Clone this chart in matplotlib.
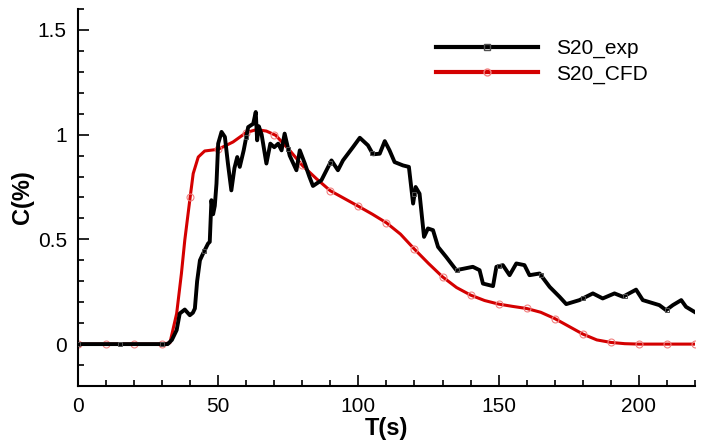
import matplotlib
matplotlib.use("Agg")
import matplotlib.pyplot as plt
import numpy as np

plt.rcParams['font.family'] = ['Liberation Sans', 'DejaVu Sans']

t_exp = [0, 32, 33.5, 35.2, 36.3, 38.1, 39.9, 41.0, 41.7, 42.5, 43.5, 44.6, 45.2, 46.4,
         47.0, 47.6, 48.2, 48.8, 49.4, 50.0, 51.2, 52.4, 53.5, 54.7, 55.8, 56.8, 57.7,
         59.1, 60.7, 62.5, 63.4, 63.9, 64.5, 65.5, 67.2, 68.6, 70.0, 71.4, 72.6, 73.7,
         75.5, 77.9, 79.1, 80.9, 82.5, 83.8, 86.8, 90.4, 92.7, 94.5, 98.1, 100.5, 103.4,
         105.2, 107.6, 109.4, 111.1, 112.9, 115.9, 118.0, 119.5, 120.4, 121.8, 123.4,
         124.8, 126.6, 128.4, 131.3, 134.9, 137.5, 140.8, 143.2, 144.4, 148.0, 149.2,
         151.5, 153.9, 156.3, 159.2, 161.0, 164.6, 168.2, 171.7, 174.1, 178.8, 183.6,
         187.1, 191.3, 194.3, 199.0, 201.4, 207.3, 209.7, 212.1, 215.1, 216.8, 219.8]
c_exp = [0, 0, 0.02, 0.067, 0.146, 0.165, 0.138, 0.15, 0.17, 0.30, 0.40, 0.432, 0.448, 0.48,
         0.488, 0.687, 0.62, 0.66, 0.766, 0.957, 1.013, 0.989, 0.86, 0.734, 0.84, 0.893, 0.846,
         0.925, 1.036, 1.052, 1.108, 0.973, 1.04, 1.0, 0.862, 0.957, 0.94, 0.957, 0.925, 1.005,
         0.90, 0.830, 0.925, 0.862, 0.80, 0.755, 0.782, 0.877, 0.830, 0.877, 0.941, 0.985, 0.949,
         0.906, 0.909, 0.969, 0.925, 0.869, 0.853, 0.846, 0.671, 0.75, 0.718, 0.512,
         0.552, 0.544, 0.464, 0.416, 0.353, 0.36, 0.369, 0.353, 0.289, 0.277, 0.369,
         0.377, 0.329, 0.385, 0.377, 0.329, 0.337, 0.273, 0.226, 0.191, 0.21, 0.242,
         0.218, 0.242, 0.226, 0.26, 0.21, 0.186, 0.162, 0.186, 0.21, 0.178, 0.154]
t_exp_marks = [0, 15, 30, 45, 60, 75, 90, 105, 120, 135, 150, 165, 180, 195, 210]

# CFD series
t_cfd = [0, 10, 20, 30, 32.8, 35.2, 36.9, 38.1, 40, 41.1, 42.9, 45.2, 50, 55.3, 60,
         63.7, 67.2, 70.5, 75.5, 80, 85, 90, 95, 100, 105, 110, 115, 120, 125, 130,
         135, 140, 145, 150, 155, 160, 165, 170, 175, 180, 185, 190, 195, 200, 210, 220]
c_cfd = [0, 0, 0, 0, 0.006, 0.146, 0.337, 0.496, 0.70, 0.814, 0.893, 0.922, 0.93, 0.965, 1.01,
         1.024, 1.017, 0.997, 0.925, 0.853, 0.79, 0.732, 0.695, 0.658, 0.62, 0.579, 0.525,
         0.453, 0.385, 0.321, 0.27, 0.234, 0.208, 0.191, 0.18, 0.170, 0.152, 0.122, 0.085,
         0.048, 0.02, 0.008, 0.002, 0, 0, 0]
t_cfd_marks = list(range(0, 230, 10))

y_ticks = [0, 0.5, 1, 1.5]
y_labels = ['0', '0.5', '1', '1.5']
x_ticks = [0, 50, 100, 150, 200]

fig = plt.figure(figsize=(7.02, 4.48), dpi=100)
ax = fig.add_axes([0.111, 0.1384, 0.879, 0.8416])

red = '#d40000'
ax.plot(t_exp, c_exp, color='black', lw=2.8, solid_joinstyle='round', zorder=3)
ax.plot(t_exp_marks, np.interp(t_exp_marks, t_exp, c_exp), ls='none', marker='s',
        ms=3.5, mfc='none', mec='#505050', mew=0.7, zorder=4)
ax.plot(t_cfd, c_cfd, color=red, lw=2.2, zorder=2)
ax.plot(t_cfd_marks, np.interp(t_cfd_marks, t_cfd, c_cfd), ls='none', marker='o',
        ms=5, mfc='none', mec='#f08080', mew=0.8, zorder=2)

# legend proxies
ax.plot([], [], color='black', lw=3, marker='s', ms=4, mfc='none', mec='#505050',
        label='S20_exp')
ax.plot([], [], color=red, lw=3, marker='o', ms=5, mfc='none', mec='#f08080',
        label='S20_CFD')
handles, labels = ax.get_legend_handles_labels()
ax.legend(handles, labels, loc='upper left', bbox_to_anchor=(0.58, 0.92),
          frameon=False, fontsize=15, handlelength=4.9, handletextpad=0.85,
          labelspacing=0.3, borderpad=0, borderaxespad=0, markerscale=1)

ax.set_xlim(0, 220)
ax.set_ylim(-0.2, 1.6)
ax.set_xticks(x_ticks)
ax.set_xticks(np.arange(0, 221, 10), minor=True)
ax.set_yticks(y_ticks)
ax.set_yticklabels(y_labels)
ax.set_yticks(np.arange(-0.2, 1.61, 0.1), minor=True)
ax.tick_params(which='both', direction='in', labelsize=15, width=1.2)
ax.tick_params(which='major', length=8, pad=8)
ax.tick_params(which='minor', length=4)
ax.tick_params(top=False, right=False)
for s in ['top', 'right']:
    ax.spines[s].set_visible(False)
for s in ['left', 'bottom']:
    ax.spines[s].set_linewidth(1.5)

ax.set_xlabel('T(s)', fontsize=17, fontweight='bold', labelpad=1)
ax.set_ylabel('C(%)', fontsize=17, fontweight='bold', labelpad=3)

fig.savefig('out.png', dpi=100)
